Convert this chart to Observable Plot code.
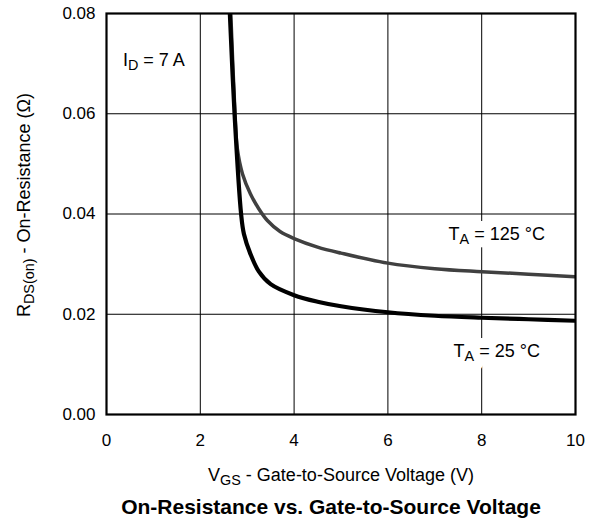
<!DOCTYPE html>
<html>
<head>
<meta charset="utf-8">
<script src="https://cdn.jsdelivr.net/npm/d3@7"></script>
<script src="https://cdn.jsdelivr.net/npm/@observablehq/plot@0.6"></script>
<style>
  html, body { margin: 0; padding: 0; background: #fff; overflow: hidden; font-family: "Liberation Sans", Arial, sans-serif; }
  #chart svg { display: block; }
  #title { box-sizing: border-box; width: 598px; height: 30px; line-height: 34px; padding-left: 64px; text-align: center; font-weight: bold; font-size: 21px; color: #000; white-space: nowrap; }
</style>
</head>
<body>
<div id="chart"></div>
<div id="title">On-Resistance vs. Gate-to-Source Voltage</div>
<script>
// V_GS (V) and R_DS(on) (Ω)
const vgs25 = [2.63, 2.73, 2.87, 2.93, 3.07, 3.25, 3.5, 4.0, 4.5, 5.0, 6.0, 7.0, 8.0, 9.0, 10.0];
const rds25 = [0.080, 0.060, 0.040, 0.036, 0.032, 0.0285, 0.026, 0.0238, 0.0225, 0.0216, 0.0204, 0.0197, 0.0193, 0.0190, 0.0187];
const vgs125 = [2.65, 2.74, 2.79, 2.9, 3.07, 3.25, 3.43, 3.7, 4.0, 4.5, 5.0, 6.0, 7.0, 8.0, 9.0, 10.0];
const rds125 = [0.080, 0.060, 0.053, 0.048, 0.044, 0.041, 0.0387, 0.0365, 0.0351, 0.0334, 0.0322, 0.0302, 0.0291, 0.0285, 0.0280, 0.0275];
const xTicks = [0, 2, 4, 6, 8, 10];
const yTicks = [0, 0.02, 0.04, 0.06, 0.08];
const annText = ["I_{D} = 7 A", "T_{A} = 125 °C", "T_{A} = 25 °C"];
const annX = [0.35, 8.32, 8.32];
const annY = [0.0706, 0.0359, 0.0126];
const annAnchor = ["start", "middle", "middle"];
const xLabel = "V_{GS} - Gate-to-Source Voltage (V)";
const yLabel = "R_{DS(on)} - On-Resistance (Ω)";

const s25 = vgs25.map((v, i) => ({v, r: rds25[i]}));
const s125 = vgs125.map((v, i) => ({v, r: rds125[i]}));
const ann = annText.map((t, i) => ({t, x: annX[i], y: annY[i], a: annAnchor[i]}));
const annMid = ann.filter(d => d.a === "middle");
const annStart = ann.filter(d => d.a === "start");

const FS = 17, LS = 18;
const plot = Plot.plot({
  width: 598,
  height: 490,
  marginLeft: 106,
  marginRight: 23,
  marginTop: 13,
  marginBottom: 76,
  style: {fontFamily: "'Liberation Sans', Arial, sans-serif", fontSize: FS + "px", color: "#000", background: "#fff", overflow: "visible"},
  x: {domain: [0, 10], ticks: xTicks, tickFormat: d => String(d), label: null},
  y: {domain: [0, 0.08], ticks: yTicks, tickFormat: d3.format(".2f"), label: null},
  marks: [
    Plot.gridX(xTicks, {stroke: "#000", strokeOpacity: 1, strokeWidth: 1}),
    Plot.gridY(yTicks, {stroke: "#000", strokeOpacity: 1, strokeWidth: 1}),
    Plot.axisX({ticks: xTicks, tickSize: 0, tickPadding: 19, tickFormat: d => String(d), fontSize: FS}),
    Plot.axisY({ticks: yTicks, tickSize: 0, tickPadding: 11, tickFormat: d3.format(".2f"), fontSize: FS}),
    Plot.line(s125, {x: "v", y: "r", curve: "catmull-rom", stroke: "#404040", strokeWidth: 3.5, clip: true}),
    Plot.line(s25, {x: "v", y: "r", curve: "catmull-rom", stroke: "#000", strokeWidth: 4.2, clip: true}),
    // white box behind the temperature labels (interrupts the gridline)
    Plot.text(annMid, {x: "x", y: "y", text: "t", textAnchor: "middle", fill: "#fff", stroke: "#fff", strokeWidth: 20, fontSize: LS}),
    Plot.text(annMid, {x: "x", y: "y", text: "t", textAnchor: "middle", fill: "#000", fontSize: LS}),
    Plot.text(annStart, {x: "x", y: "y", text: "t", textAnchor: "start", fill: "#000", fontSize: LS}),
    Plot.text([xLabel], {frameAnchor: "bottom", lineAnchor: "middle", textAnchor: "middle", dy: 61, fill: "#000", fontSize: LS}),
    Plot.text([yLabel], {frameAnchor: "left", lineAnchor: "middle", textAnchor: "middle", rotate: -90, dx: -82, dy: -9, fill: "#000", fontSize: LS}),
    Plot.frame({stroke: "#000", strokeWidth: 2.2})
  ]
});
document.getElementById("chart").appendChild(plot);

// Render "X_{sub}rest" as real subscripts
d3.select(plot).selectAll("text").each(function() {
  const el = this;
  const txt = el.textContent;
  const m = txt.match(/^(.*?)_\{(.*?)\}(.*)$/);
  if (!m) return;
  el.textContent = "";
  const sel = d3.select(el);
  sel.append("tspan").text(m[1]);
  sel.append("tspan").attr("dy", 4).attr("font-size", "80%").text(m[2]);
  sel.append("tspan").attr("dy", -4).text(m[3]);
});
</script>
</body>
</html>
